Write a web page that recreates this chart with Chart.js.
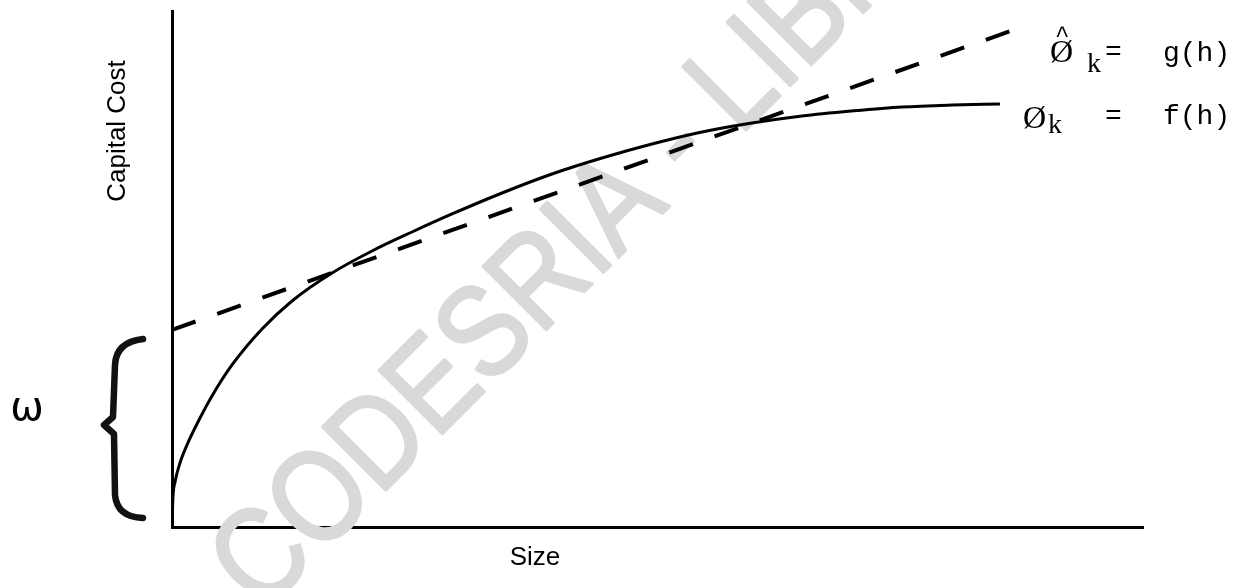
<!DOCTYPE html>
<html>
<head>
<meta charset="utf-8">
<title>Capital Cost vs Size</title>
<script src="https://cdn.jsdelivr.net/npm/chart.js@4/dist/chart.umd.min.js"></script>
<style>
  body { margin: 0; background: #fff; }
  #wrap { width: 1251px; height: 588px; position: relative; }
</style>
</head>
<body>
<div id="wrap"><canvas id="costchart"></canvas></div>
<script>
// Axes scaled 0..100 (no ticks on the original)
const sizeCurve = [0, 0.10, 0.31, 0.82, 1.54, 2.57, 4.12, 6.18, 9.27, 12.36, 16.48, 20.60, 24.72, 28.84, 33.99, 39.13, 44.28, 49.43, 54.58, 59.73, 64.88, 70.03, 75.18, 80.33, 85.27];
const costCurve = [0, 5.81, 8.72, 12.40, 15.89, 19.96, 25.39, 31.40, 38.37, 43.80, 49.22, 53.49, 57.17, 60.66, 64.73, 68.41, 71.51, 74.22, 76.55, 78.29, 79.65, 80.62, 81.40, 81.78, 81.98];
const sizeLine = [0, 87.8];
const costLine = [38.2, 97.1];

const xTitle = 'Size';
const yTitle = 'Capital Cost';
const bracketLabel = 'ω';
const curveLabel = ['Ø', 'k', '=', 'f(h)'];
const lineLabel = ['Ø', 'k', '=', 'g(h)'];
const watermark = 'CODESRIA - LIBRARY';

function toPoints(xs, ys) {
    return xs.map((x, i) => ({ x: x, y: ys[i] }));
}

// watermark goes behind the lines
const watermarkPlugin = {
    id: 'watermark',
    beforeDatasetsDraw(chart) {
        const ctx = chart.ctx;
        ctx.save();
        ctx.translate(262, 614);
        ctx.rotate(-Math.PI / 4);
        ctx.scale(0.85, 1);   // the stamp is a bit condensed
        ctx.font = '130px "Liberation Sans", Arial, sans-serif';
        ctx.fillStyle = '#d9d9d9';
        ctx.strokeStyle = '#d9d9d9';
        ctx.lineWidth = 3;
        ctx.lineJoin = 'round';
        ctx.textBaseline = 'alphabetic';
        ctx.fillText(watermark, 0, 0);
        ctx.strokeText(watermark, 0, 0);
        ctx.restore();
    }
};

// titles, brace and the two formula labels
const annotatePlugin = {
    id: 'annotate',
    afterDraw(chart) {
        const ctx = chart.ctx;
        ctx.save();
        ctx.fillStyle = '#000';

        // axis titles
        ctx.font = '26px "Liberation Sans", Arial, sans-serif';
        ctx.textAlign = 'center';
        ctx.textBaseline = 'middle';
        ctx.fillText(xTitle, 535, 558);
        ctx.save();
        ctx.translate(118, 131);
        ctx.rotate(-Math.PI / 2);
        ctx.fillText(yTitle, 0, 0);
        ctx.restore();

        // omega
        ctx.font = '40px "DejaVu Sans", sans-serif';
        ctx.fillText(bracketLabel, 27, 410);

        // brace
        ctx.strokeStyle = '#111';
        ctx.lineWidth = 6.5;
        ctx.lineCap = 'round';
        ctx.lineJoin = 'round';
        ctx.beginPath();
        ctx.moveTo(143, 339);
        ctx.quadraticCurveTo(116, 342, 115, 365);
        ctx.lineTo(113, 417);
        ctx.lineTo(104, 425);
        ctx.lineTo(114, 434);
        ctx.lineTo(115, 495);
        ctx.quadraticCurveTo(117, 517, 143, 518);
        ctx.stroke();

        // formula labels
        ctx.textAlign = 'left';
        ctx.textBaseline = 'alphabetic';
        ctx.font = '32px "Liberation Serif", serif';
        ctx.fillText(lineLabel[0], 1050, 62);
        ctx.fillText(curveLabel[0], 1023, 128);
        ctx.font = '24px "Liberation Mono", monospace';
        ctx.fillText('^', 1055, 42);
        ctx.font = '28px "Liberation Serif", serif';
        ctx.fillText(lineLabel[1], 1087, 72);
        ctx.fillText(curveLabel[1], 1048, 133);
        ctx.font = '28px "Liberation Mono", monospace';
        ctx.fillText(lineLabel[2], 1105, 60);
        ctx.fillText(curveLabel[2], 1105, 124);
        ctx.fillText(lineLabel[3], 1163, 61);
        ctx.fillText(curveLabel[3], 1163, 124);
        ctx.restore();
    }
};

function drawCostChart() {
    const ctx = document.getElementById('costchart').getContext('2d');
    window.costChart = new Chart(ctx, {
        type: 'scatter',
        data: {
            datasets: [
                {
                    label: 'f(h)',
                    data: toPoints(sizeCurve, costCurve),
                    showLine: true,
                    borderColor: '#000',
                    borderWidth: 3,
                    pointRadius: 0,
                    cubicInterpolationMode: 'monotone'
                },
                {
                    label: 'g(h)',
                    data: toPoints(sizeLine, costLine),
                    showLine: true,
                    borderColor: '#000',
                    borderWidth: 4,
                    borderDash: [25, 23],
                    pointRadius: 0
                }
            ]
        },
        options: {
            responsive: true,
            maintainAspectRatio: false,
            animation: false,
            layout: {
                padding: { left: 172, right: 108, top: 11, bottom: 61 }
            },
            plugins: {
                legend: { display: false },
                tooltip: { enabled: false }
            },
            scales: {
                x: {
                    type: 'linear',
                    min: 0,
                    max: 100,
                    grid: { display: false, drawTicks: false },
                    ticks: { display: false },
                    border: { display: true, color: '#000', width: 3 }
                },
                y: {
                    type: 'linear',
                    min: 0,
                    max: 100,
                    grid: { display: false, drawTicks: false },
                    ticks: { display: false },
                    border: { display: true, color: '#000', width: 3 }
                }
            }
        },
        plugins: [watermarkPlugin, annotatePlugin]
    });
}

document.addEventListener('DOMContentLoaded', drawCostChart);
</script>
</body>
</html>
